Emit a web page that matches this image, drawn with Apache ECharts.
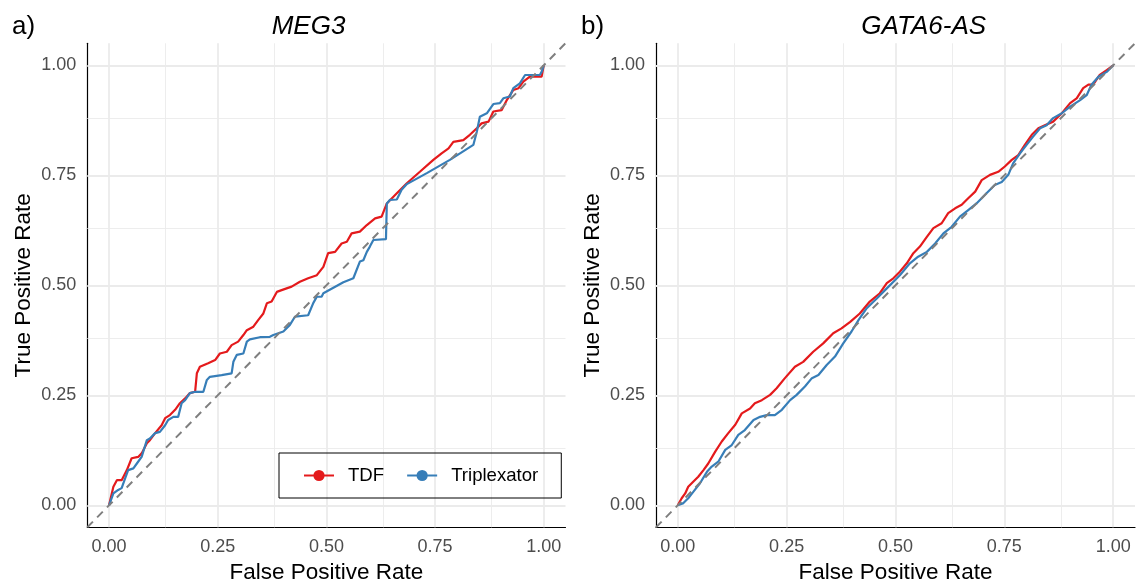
<!DOCTYPE html>
<html><head><meta charset="utf-8">
<script src="https://cdn.jsdelivr.net/npm/echarts@6/dist/echarts.min.js"></script>
<style>html,body{margin:0;padding:0;background:#fff}#c{width:1139px;height:585px}</style>
</head><body><div id="c"></div>
<script>
// ---- data ----
const panelTitles = ['MEG3', 'GATA6-AS'];
const panelTags = ['a)', 'b)'];
const seriesNames = ['TDF', 'Triplexator'];
const tickValues = [0, 0.25, 0.5, 0.75, 1];
const minorValues = [0.125, 0.375, 0.625, 0.875];
const axisMin = -0.05, axisMax = 1.05;
const diagonalPts = [-0.05, 1.05];

const meg3TdfFpr = [0,0.010,0.018,0.029,0.041,0.052,0.067,0.075,0.087,0.094,0.106,0.121,0.129,0.140,0.152,0.163,0.175,0.186,0.198,0.202,0.209,0.213,0.228,0.244,0.255,0.271,0.282,0.297,0.309,0.317,0.332,0.343,0.355,0.363,0.374,0.386,0.397,0.420,0.439,0.458,0.478,0.493,0.504,0.520,0.535,0.547,0.558,0.577,0.593,0.612,0.627,0.639,0.662,0.685,0.715,0.746,0.765,0.781,0.792,0.815,0.830,0.846,0.857,0.873,0.884,0.903,0.915,0.930,0.942,0.953,0.968,0.995,1.0];
const meg3TdfTpr = [0,0.042,0.057,0.057,0.080,0.107,0.110,0.118,0.141,0.148,0.164,0.182,0.198,0.205,0.217,0.232,0.243,0.255,0.258,0.300,0.315,0.319,0.323,0.330,0.345,0.349,0.364,0.372,0.387,0.398,0.406,0.421,0.436,0.459,0.463,0.485,0.489,0.497,0.508,0.516,0.523,0.542,0.573,0.576,0.595,0.599,0.618,0.622,0.637,0.652,0.656,0.686,0.709,0.732,0.758,0.785,0.800,0.811,0.826,0.830,0.842,0.857,0.868,0.872,0.895,0.898,0.921,0.944,0.948,0.963,0.974,0.974,1.0];

const meg3TriFpr = [0,0.010,0.021,0.029,0.037,0.044,0.056,0.064,0.075,0.087,0.094,0.106,0.117,0.129,0.136,0.148,0.159,0.167,0.175,0.186,0.198,0.217,0.225,0.232,0.259,0.282,0.286,0.294,0.309,0.317,0.324,0.347,0.370,0.378,0.401,0.416,0.428,0.458,0.470,0.478,0.489,0.493,0.539,0.562,0.577,0.585,0.593,0.600,0.608,0.637,0.639,0.646,0.662,0.673,0.685,0.731,0.784,0.838,0.846,0.853,0.869,0.884,0.899,0.907,0.922,0.930,0.945,0.957,0.991,0.995,1.0];
const meg3TriTpr = [0,0.027,0.035,0.039,0.061,0.080,0.084,0.095,0.110,0.148,0.152,0.164,0.167,0.182,0.194,0.201,0.201,0.232,0.239,0.255,0.258,0.258,0.285,0.292,0.296,0.300,0.326,0.342,0.345,0.372,0.377,0.382,0.383,0.387,0.395,0.410,0.429,0.432,0.460,0.474,0.474,0.482,0.507,0.516,0.554,0.557,0.576,0.588,0.603,0.605,0.686,0.694,0.695,0.717,0.730,0.755,0.785,0.819,0.849,0.883,0.891,0.912,0.914,0.925,0.929,0.948,0.959,0.978,0.978,0.985,1.0];

const gataTdfFpr = [0,0.009,0.017,0.024,0.036,0.047,0.059,0.070,0.086,0.101,0.116,0.132,0.147,0.166,0.177,0.193,0.212,0.227,0.246,0.269,0.288,0.311,0.334,0.357,0.376,0.396,0.418,0.441,0.464,0.480,0.495,0.510,0.526,0.541,0.556,0.572,0.587,0.606,0.621,0.637,0.652,0.667,0.683,0.698,0.717,0.736,0.751,0.767,0.782,0.797,0.813,0.828,0.843,0.862,0.882,0.901,0.916,0.931,0.943,0.954,0.969,0.985,1.0];
const gataTdfTpr = [0,0.016,0.027,0.042,0.054,0.065,0.080,0.095,0.122,0.145,0.164,0.183,0.209,0.220,0.232,0.239,0.251,0.266,0.289,0.315,0.326,0.349,0.368,0.391,0.402,0.417,0.436,0.463,0.482,0.505,0.516,0.531,0.550,0.573,0.588,0.610,0.630,0.641,0.664,0.675,0.683,0.698,0.713,0.739,0.751,0.758,0.770,0.785,0.796,0.819,0.842,0.857,0.864,0.872,0.891,0.914,0.925,0.948,0.956,0.956,0.978,0.989,1.0];

const gataTriFpr = [0,0.013,0.024,0.036,0.051,0.067,0.078,0.093,0.109,0.124,0.139,0.154,0.174,0.189,0.204,0.223,0.239,0.258,0.273,0.292,0.308,0.323,0.342,0.361,0.380,0.399,0.415,0.434,0.457,0.480,0.497,0.510,0.533,0.552,0.572,0.591,0.610,0.629,0.648,0.667,0.686,0.709,0.728,0.744,0.759,0.770,0.786,0.801,0.816,0.832,0.847,0.862,0.882,0.901,0.924,0.939,0.950,0.966,0.985,1.0];
const gataTriTpr = [0,0.005,0.016,0.031,0.050,0.076,0.088,0.099,0.126,0.137,0.160,0.171,0.194,0.201,0.205,0.205,0.217,0.239,0.251,0.270,0.289,0.296,0.319,0.338,0.368,0.395,0.421,0.448,0.470,0.493,0.510,0.523,0.550,0.565,0.576,0.595,0.618,0.633,0.656,0.671,0.686,0.709,0.728,0.735,0.751,0.777,0.800,0.819,0.838,0.857,0.864,0.880,0.891,0.906,0.921,0.932,0.956,0.974,0.985,1.0];

// ---- chart ----
const FONT = '"Liberation Sans", Arial, Helvetica, sans-serif';
const RED = '#E41A1C', BLUE = '#377EB8';
const pairs = (xs, ys) => xs.map((x, i) => [x, ys[i]]);
const curves = [
  [pairs(meg3TdfFpr, meg3TdfTpr), pairs(meg3TriFpr, meg3TriTpr)],
  [pairs(gataTdfFpr, gataTdfTpr), pairs(gataTriFpr, gataTriTpr)]
];
const grids = [
  {left: 87.3, top: 43.3, width: 478.2, height: 484, outerBoundsMode: 'none', containLabel: false},
  {left: 656, top: 43.3, width: 479, height: 484, outerBoundsMode: 'none', containLabel: false}
];

const xAxes = [], yAxes = [], series = [];
grids.forEach((g, i) => {
  xAxes.push({
    type: 'value', gridIndex: i, min: axisMin, max: axisMax,
    name: 'False Positive Rate', nameLocation: 'middle', nameGap: 26,
    nameTextStyle: {fontFamily: FONT, fontSize: 22.5, color: '#000'},
    axisLine: {show: true, onZero: false, lineStyle: {color: '#000', width: 1.2}},
    axisTick: {show: false},
    splitLine: {show: false},
    axisLabel: {customValues: tickValues, formatter: v => v.toFixed(2), fontFamily: FONT, fontSize: 18, color: '#4D4D4D', margin: 11}
  });
  yAxes.push({
    type: 'value', gridIndex: i, min: axisMin, max: axisMax,
    name: 'True Positive Rate', nameLocation: 'middle', nameGap: 52,
    nameTextStyle: {fontFamily: FONT, fontSize: 22.5, color: '#000'},
    axisLine: {show: true, onZero: false, lineStyle: {color: '#000', width: 1.2}},
    axisTick: {show: false},
    splitLine: {show: false},
    axisLabel: {customValues: tickValues, formatter: v => v.toFixed(2), fontFamily: FONT, fontSize: 18, color: '#4D4D4D', margin: 11}
  });
  const gl = [];
  minorValues.forEach(v => {
    gl.push({xAxis: v, lineStyle: {width: 0.9}});
    gl.push({yAxis: v, lineStyle: {width: 0.9}});
  });
  tickValues.forEach(v => {
    gl.push({xAxis: v, lineStyle: {width: 1.8}});
    gl.push({yAxis: v, lineStyle: {width: 1.8}});
  });
  series.push({
    type: 'line', name: 'grid' + i, xAxisIndex: i, yAxisIndex: i, data: [], silent: true, z: 1,
    markLine: {silent: true, symbol: 'none', z: 1, label: {show: false},
      lineStyle: {color: '#EBEBEB', type: 'solid'}, emphasis: {disabled: true}, data: gl}
  });
  [RED, BLUE].forEach((col, k) => {
    series.push({
      type: 'line', name: seriesNames[k], xAxisIndex: i, yAxisIndex: i,
      data: curves[i][k], showSymbol: false, symbol: 'circle', symbolSize: 10,
      color: col, lineStyle: {color: col, width: 2.2}, z: 10 + k, silent: true
    });
  });
  series.push({
    type: 'line', name: 'diag' + i, xAxisIndex: i, yAxisIndex: i,
    data: [[diagonalPts[0], diagonalPts[0]], [diagonalPts[1], diagonalPts[1]]],
    showSymbol: false, symbol: 'none', silent: true, z: 20,
    lineStyle: {color: '#7F7F7F', width: 2, type: [8, 6]}
  });
});

const chart = echarts.init(document.getElementById('c'), null, {renderer: 'canvas'});
chart.setOption({
  animation: false,
  backgroundColor: '#fff',
  grid: grids,
  xAxis: xAxes,
  yAxis: yAxes,
  series: series,
  legend: {
    data: seriesNames, left: 279, top: 453, orient: 'horizontal',
    borderColor: '#000', borderWidth: 1, padding: [13, 23, 13, 24],
    itemGap: 22, itemWidth: 30, itemHeight: 14,
    textStyle: {fontFamily: FONT, fontSize: 18.6, color: '#000', padding: [0, 0, 0, 9]}
  },
  graphic: [
    {type: 'text', left: 12, top: 14, style: {text: panelTags[0], font: '26px ' + FONT, fill: '#000'}},
    {type: 'text', left: 581, top: 14, style: {text: panelTags[1], font: '26px ' + FONT, fill: '#000'}},
    {type: 'text', x: 308.5, y: 26.5, style: {text: panelTitles[0], font: 'italic 26px ' + FONT, fill: '#000', align: 'center', verticalAlign: 'middle'}},
    {type: 'text', x: 923.7, y: 26.5, style: {text: panelTitles[1], font: 'italic 26px ' + FONT, fill: '#000', align: 'center', verticalAlign: 'middle'}}
  ]
});
</script>
</body></html>
